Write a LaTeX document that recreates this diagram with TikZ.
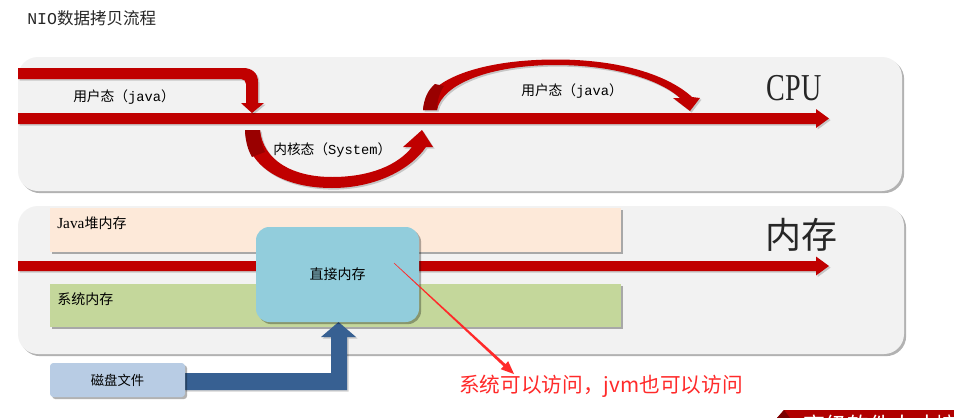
\documentclass[tikz,border=0pt]{standalone}
\usepackage{fontspec}
\setmainfont{Noto Sans CJK SC}
\newfontfamily\monof{Liberation Mono}
\newfontfamily\serf{Liberation Serif}
\usetikzlibrary{shadows}
\definecolor{panel}{HTML}{F2F2F2}
\definecolor{ared}{HTML}{C00000}
\definecolor{dred}{HTML}{990000}
\definecolor{heap}{HTML}{FDE9D9}
\definecolor{sysmem}{HTML}{C4D79B}
\definecolor{direct}{HTML}{92CDDC}
\definecolor{disk}{HTML}{B8CCE4}
\definecolor{barrow}{HTML}{376092}
\definecolor{note}{HTML}{FF2A2A}
\definecolor{banner}{HTML}{B00000}
\begin{document}
\begin{tikzpicture}[x=0.75pt,y=-0.75pt,
  shd/.style={drop shadow={shadow xshift=1.6pt,shadow yshift=-1.6pt,fill=black,opacity=0.3}},
  ashd/.style={drop shadow={shadow xshift=1.2pt,shadow yshift=-1.2pt,fill=black,opacity=0.18}},
  lbl/.style={inner sep=0pt,font=\fontsize{10.3}{12}\selectfont,text=black},
  memlbl/.style={inner sep=0pt,font=\fontsize{10.5}{12}\selectfont,text=black,anchor=west},
  panelbox/.style={fill=panel,rounded corners=15pt,shd},
  directbox/.style={fill=direct,rounded corners=10pt,shd,minimum width=122.25pt,minimum height=71.25pt,inner sep=0pt,font=\fontsize{10.5}{12}\selectfont},
  diskbox/.style={fill=disk,rounded corners=2.5pt,shd,minimum width=101.25pt,minimum height=25.5pt,inner sep=0pt,font=\fontsize{10}{12}\selectfont},
  redarrow/.style={fill=ared,ashd}]
\useasboundingbox (0,0) rectangle (954,418);
\clip (0,0) rectangle (954,418);
\fill[white] (0,0) rectangle (954,418);

% title
\node[inner sep=0pt,anchor=west,font=\fontsize{12.4}{14}\selectfont,text=black!85] (title) at (27,18) {{\monof NIO}数据拷贝流程};

% ---------- CPU panel ----------
\path[panelbox] (18,57) rectangle (902,191);

% main CPU arrow
\path[redarrow] (18,113) -- (816,113) -- (816,109) -- (829,118.5) -- (816,128) -- (816,124) -- (18,124) -- cycle;

% bent arrow (user -> kernel)
\path[redarrow] (18,68) -- (243,68) .. controls (252,68) and (258,73) .. (258,82) -- (258,103) -- (264,103) -- (252,113) -- (241,103) -- (246,103) -- (246,84) .. controls (246,81) and (244,79) .. (241,79) -- (18,79) -- cycle;

% lower curved arrow (kernel)
\path[redarrow] (245,130) .. controls (247,168) and (285,188) .. (332,188) .. controls (375,188) and (410,170) .. (426,147) -- (433,147) -- (422,130) -- (403,147) -- (412,147) .. controls (398,165) and (370,177) .. (332,177) .. controls (292,177) and (263,160) .. (260,130) -- cycle;
\fill[dred] (245,130) .. controls (245.5,142) and (248,150) .. (252,157) -- (265,152) .. controls (262,146) and (260,138) .. (260,130) -- cycle;

% upper curved arrow (user)
\path[redarrow] (423,110) .. controls (425,80) and (480,59.5) .. (556,59.5) .. controls (620,59.5) and (668,75) .. (692,97) -- (700,98) -- (690,111) -- (673,98) -- (680,98) .. controls (660,80) and (615,65) .. (556,65) .. controls (490,65) and (442,84) .. (437,110) -- cycle;
\fill[dred] (423,110) .. controls (424,98) and (428,90) .. (435,84) -- (444,86) .. controls (440,92) and (437,100) .. (437,110) -- cycle;

\node[lbl,anchor=west] (u1) at (73,97) {用户态（{\monof java}）};
\node[lbl,anchor=west] (k1) at (273,150) {内核态（{\monof System}）};
\node[lbl,anchor=west] (u2) at (521,91) {用户态（{\monof java}）};
\node[inner sep=0pt,text=black!85,font=\serf\fontsize{28.5}{30}\selectfont] (cpu) at (794,88) {\scalebox{0.74}[1]{CPU}};

% ---------- Memory panel ----------
\path[panelbox] (18,206) rectangle (904,354);
\path[fill=heap,shd] (50,208) rectangle (621,252);
\path[fill=sysmem,shd] (50,284) rectangle (621,327);
\node[memlbl] (heaplbl) at (57,223) {{\serf\fontsize{11.5}{12}\selectfont Java}堆内存};
\node[memlbl] (syslbl) at (57,299) {系统内存};

\path[redarrow] (18,261) -- (816,261) -- (816,256.5) -- (829,266) -- (816,275.5) -- (816,271) -- (18,271) -- cycle;

\node[inner sep=0pt,text=black!85,font=\fontsize{27}{30}\selectfont] (mem) at (801,235) {内存};

% disk + blue arrow
\path[fill=barrow,ashd] (184,373) -- (331,373) -- (331,337) -- (321,337) -- (338.5,322) -- (356,337) -- (347,337) -- (347,390) -- (184,390) -- cycle;
\node[diskbox] (diskf) at (117.5,380) {磁盘文件};
\node[directbox] (dm) at (337.5,274.5) {直接内存};

% annotation
\coordinate (na) at (394,263);
\coordinate (nb) at (514,374);
\fill[note] (394.2,262.8) -- (505.5,364.1) -- (508.2,361.2) -- (nb) -- (500.8,369.2) -- (503.5,366.3) -- (393.8,263.2) -- cycle;
\node[inner sep=0pt,text=note,font=\fontsize{15.5}{17}\selectfont] (notetxt) at (601,386) {系统可以访问，jvm也可以访问};

% banner (cut off at the picture's lower edge)
\fill[banner] (777,418) -- (784,410) -- (954,410) -- (954,418) -- cycle;
\fill[dred!80!black] (777,418) -- (784,410) -- (790,418) -- cycle;
\node[inner sep=0pt,anchor=base west,text=white,font=\fontsize{16.5}{18}\selectfont] (bannertxt) at (803,433) {高级软件人才培训专家};
\end{tikzpicture}
\end{document}
